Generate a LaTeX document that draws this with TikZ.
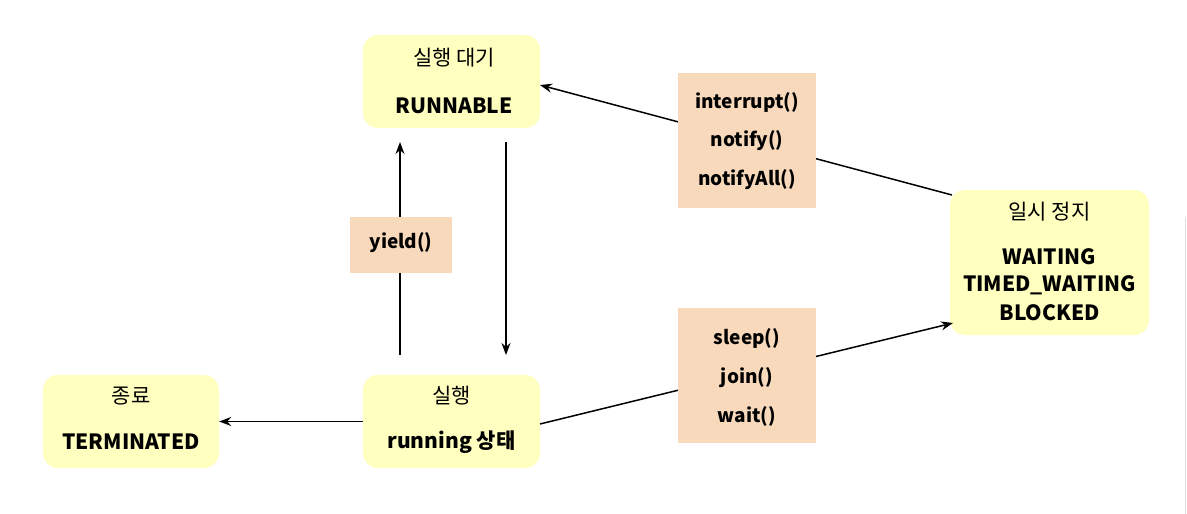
\documentclass[tikz,border=0pt]{standalone}
\usepackage{fontspec}
\setmainfont{Noto Sans CJK KR}
\usetikzlibrary{arrows.meta}
\definecolor{stateY}{HTML}{FFFFC0}
\definecolor{peach}{HTML}{F8D9BC}
\tikzset{
  statebox/.style={fill=stateY, draw=none, rounded corners=15pt, inner sep=0pt},
  methbox/.style={fill=peach, draw=none, inner sep=0pt},
  krtext/.style={font=\fontsize{21}{24}\selectfont, inner sep=0pt},
  bltext/.style={font=\fontsize{21}{24}\selectfont\bfseries, inner sep=0pt},
  mtext/.style={font=\fontsize{19}{22}\selectfont\bfseries, inner sep=0pt},
  arr/.style={line width=1.5pt, -{Stealth[length=12pt,width=9pt]}},
  ln/.style={line width=1.5pt}
}
\begin{document}
\begin{tikzpicture}[x=1pt,y=-1pt]
\useasboundingbox (0,0) rectangle (1187,514);
\fill[white] (0,0) rectangle (1187,514);
% faint edge line
\draw[gray!25, line width=1pt] (1185,217) -- (1185,514);
% state boxes
\node[statebox, minimum width=177pt, minimum height=93pt] (runnable) at (451.5,81.5) {};
\node[statebox, minimum width=177pt, minimum height=93pt] (running) at (451.5,421.5) {};
\node[statebox, minimum width=176pt, minimum height=93pt] (term) at (131,421.5) {};
\node[statebox, minimum width=199pt, minimum height=145pt] (wait) at (1049.5,262.5) {};
% texts
\node[krtext] (t1a) at (454,58) {실행 대기};
\node[bltext] (t1b) at (454,106) {RUNNABLE};
\node[krtext] (t2a) at (451.5,396) {실행};
\node[bltext] (t2b) at (451.5,442) {running 상태};
\node[krtext] (t3a) at (131,396) {종료};
\node[bltext] (t3b) at (131,442) {TERMINATED};
\node[krtext] (t4a) at (1049.5,212) {일시 정지};
\node[bltext] (t4b) at (1049.5,257) {WAITING};
\node[bltext] (t4c) at (1049.5,285) {TIMED\_WAITING};
\node[bltext] (t4d) at (1049.5,313) {BLOCKED};
% connector end points
\coordinate (upS) at (400,355);
\coordinate (upE) at (400,142);
\coordinate (dnS) at (506,142);
\coordinate (dnE) at (506,355);
\coordinate (wTop) at (952,195);
\coordinate (rTop) at (540,85);
\coordinate (rBot) at (540,424);
\coordinate (wBot) at (953,323);
% connectors
\draw[arr] (upS) -- (upE);
\draw[arr] (dnS) -- (dnE);
\draw[arr] (running.west) -- (term.east);
\draw[arr] (wTop) -- (rTop);
\draw[arr] (rBot) -- (wBot);
% method boxes
\node[methbox, minimum width=102pt, minimum height=56pt] (yieldb) at (401,245) {};
\node[mtext] (yt) at (401,243) {yield()};
\node[methbox, minimum width=138pt, minimum height=135pt] (notb) at (747,140.5) {};
\node[mtext] (n1) at (747,102) {interrupt()};
\node[mtext] (n2) at (747,141) {notify()};
\node[mtext] (n3) at (747,180) {notifyAll()};
\node[methbox, minimum width=138pt, minimum height=135pt] (slb) at (747,375.5) {};
\node[mtext] (s1) at (747,338) {sleep()};
\node[mtext] (s2) at (747,378) {join()};
\node[mtext] (s3) at (747,416) {wait()};
\end{tikzpicture}
\end{document}
